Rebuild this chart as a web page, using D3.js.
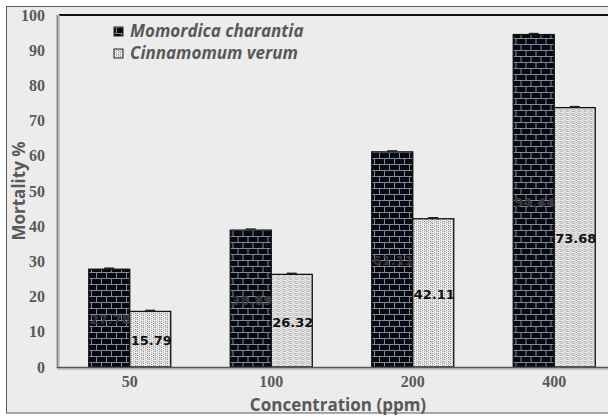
<!DOCTYPE html>
<html>
<head>
	<script src="https://d3js.org/d3.v7.min.js"></script>
	<style>
		body { margin: 0; background: #fff; }
		.tick text { font-family: "Liberation Serif", "DejaVu Serif", serif; font-weight: bold; font-size: 16px; fill: #595959; }
		.title { font-family: "Open Sans", "Noto Sans", sans-serif; font-weight: bold; fill: #595959; }
	</style>
</head>
<body>
	<div id="chart"></div>
	<script>
		// data
		var concentrations = ["50", "100", "200", "400"];
		var seriesNames = ["Momordica charantia", "Cinnamomum verum"];
		var momordica = [27.78, 38.89, 61.11, 94.44];
		var cinnamomum = [15.79, 26.32, 42.11, 73.68];
		var yTicks = [0, 10, 20, 30, 40, 50, 60, 70, 80, 90, 100];

		var W = 608, H = 417;
		var margin = { top: 15, left: 59, bottom: 50 };
		var plotH = H - margin.top - margin.bottom; // 352
		var plotW = 566;

		var svg = d3.select("#chart").append("svg")
			.attr("width", W).attr("height", H);

		// patterns
		var defs = svg.append("defs");
		var brick = defs.append("pattern").attr("id", "brick")
			.attr("patternUnits", "userSpaceOnUse").attr("width", 10).attr("height", 12);
		brick.append("rect").attr("width", 10).attr("height", 12).attr("fill", "#08090c");
		brick.append("path")
			.attr("d", "M0,5.5H10M0,11.5H10M2.5,0V5.5M7.5,6V12")
			.attr("stroke", "#7c8aa6").attr("stroke-width", 1).attr("fill", "none");

		var dots = defs.append("pattern").attr("id", "dots")
			.attr("patternUnits", "userSpaceOnUse").attr("width", 6).attr("height", 4);
		dots.append("rect").attr("width", 6).attr("height", 4).attr("fill", "#e2e2e2");
		[[0,0,"#8e8e8e"],[0,2,"#a8a8a8"],[1,1,"#f6f6f6"],[1,3,"#fafafa"],[2,1,"#bcbcbc"],[2,3,"#9c9c9c"],[3,0,"#fcfcfc"],[3,2,"#f8f8f8"],[4,0,"#b0b0b0"],[4,2,"#888888"],[5,1,"#f2f2f2"],[5,3,"#c4c4c4"]]
			.forEach(function (p) {
				dots.append("rect").attr("x", p[0]).attr("y", p[1]).attr("width", 1).attr("height", 1).attr("fill", p[2]);
			});

		// chart area background / border
		svg.append("rect").attr("x", 6.5).attr("y", 6.5).attr("width", 620).attr("height", 406.5)
			.attr("fill", "#ececec").attr("stroke", "#595959").attr("stroke-width", 1);

		var g = svg.append("g").attr("transform", "translate(" + margin.left + "," + margin.top + ")");

		var x0 = d3.scaleBand().domain(concentrations).range([0, plotW]);
		var x1 = d3.scaleBand().domain(seriesNames).range([x0.bandwidth() / 2 - 41, x0.bandwidth() / 2 + 41]);
		var y = d3.scaleLinear().domain([0, 100]).range([plotH, 0]);

		var yAxis = g.append("g")
			.call(d3.axisLeft(y).tickValues(yTicks).tickSize(0).tickPadding(14));
		yAxis.select(".domain").remove();

		var xAxis = g.append("g").attr("transform", "translate(0," + plotH + ")")
			.call(d3.axisBottom(x0).tickSize(0).tickPadding(9));
		xAxis.select(".domain").remove();

		// frame lines
		g.append("line").attr("x1", 0).attr("x2", 600).attr("y1", 0).attr("y2", 0)
			.attr("stroke", "#111").attr("stroke-width", 2.2);
		g.append("line").attr("x1", -1).attr("x2", -1).attr("y1", 0).attr("y2", plotH + 1)
			.attr("stroke", "#8a8a8a").attr("stroke-width", 3);
		g.append("line").attr("x1", 0).attr("x2", 0).attr("y1", 0).attr("y2", plotH)
			.attr("stroke", "#dcdcdc").attr("stroke-width", 1);

		var rows = concentrations.map(function (c, i) {
			return [
				{ cat: c, name: seriesNames[0], value: momordica[i], fill: "url(#brick)" },
				{ cat: c, name: seriesNames[1], value: cinnamomum[i], fill: "url(#dots)" }
			];
		});

		var groups = g.selectAll(".grp").data(rows).enter().append("g")
			.attr("transform", function (d) { return "translate(" + x0(d[0].cat) + ",0)"; });

		groups.selectAll("rect").data(function (d) { return d; }).enter().append("rect")
			.attr("x", function (d) { return x1(d.name); })
			.attr("width", x1.bandwidth())
			.attr("y", function (d) { return y(d.value); })
			.attr("height", function (d) { return plotH - y(d.value); })
			.attr("fill", function (d) { return d.fill; })
			.attr("stroke", "#111").attr("stroke-width", 1.3);

		// error caps
		groups.selectAll(".err").data(function (d) { return d; }).enter().append("line")
			.attr("x1", function (d) { return x1(d.name) + x1.bandwidth() / 2 - 5; })
			.attr("x2", function (d) { return x1(d.name) + x1.bandwidth() / 2 + 5; })
			.attr("y1", function (d) { return y(d.value) - 1; })
			.attr("y2", function (d) { return y(d.value) - 1; })
			.attr("stroke", "#222").attr("stroke-width", 1.5);

		// value labels
		groups.selectAll(".lbl").data(function (d) { return d; }).enter().append("text")
			.attr("x", function (d) { return x1(d.name) + x1.bandwidth() / 2 + 1; })
			.attr("y", function (d) { return (y(d.value) + plotH) / 2 + 6; })
			.attr("text-anchor", "middle")
			.style("font-family", "'DejaVu Sans', sans-serif")
			.style("font-weight", "bold")
			.style("font-size", "13px")
			.attr("fill", function (d) { return d.name === seriesNames[0] ? "#383838" : "#111"; })
			.text(function (d) { return d.value.toFixed(2); });

		// baseline
		g.append("line").attr("x1", -2).attr("x2", 600).attr("y1", plotH + 0.5).attr("y2", plotH + 0.5)
			.attr("stroke", "#555").attr("stroke-width", 1.5);
		g.append("line").attr("x1", -2).attr("x2", 600).attr("y1", plotH + 2).attr("y2", plotH + 2)
			.attr("stroke", "#9a9a9a").attr("stroke-width", 1);

		// legend
		var legend = svg.append("g").attr("transform", "translate(114,28)");
		seriesNames.forEach(function (n, i) {
			legend.append("rect").attr("x", 0).attr("y", i * 22 - 1).attr("width", 9).attr("height", 9)
				.attr("fill", i === 0 ? "url(#brick)" : "url(#dots)").attr("stroke", "#222");
			legend.append("text").attr("class", "title").attr("x", 16).attr("y", i * 22 + 9)
				.style("font-style", "italic").style("font-size", "17px")
				.text(n);
		});

		// axis titles
		svg.append("text").attr("class", "title")
			.attr("transform", "translate(25," + (margin.top + plotH / 2) + ") rotate(-90)")
			.attr("text-anchor", "middle").style("font-size", "17px")
			.text("Mortality %");
		svg.append("text").attr("class", "title")
			.attr("x", 338).attr("y", 411).attr("text-anchor", "middle").style("font-size", "17px")
			.text("Concentration (ppm)");
	</script>
</body>
</html>
